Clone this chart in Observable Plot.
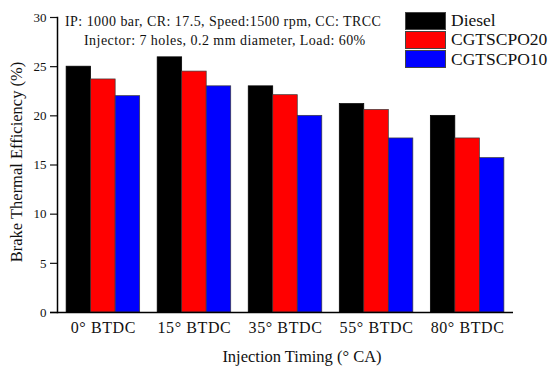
<!DOCTYPE html>
<html>
<head>
<meta charset="utf-8">
<script src="https://cdn.jsdelivr.net/npm/d3@7"></script>
<script src="https://cdn.jsdelivr.net/npm/@observablehq/plot@0.6"></script>
<style>
  body { margin: 0; background: #fff; }
  #wrap { position: relative; width: 548px; height: 366px; overflow: hidden; font-family: "Liberation Serif", "Times New Roman", serif; color: #111; }
  #wrap svg { position: absolute; left: 0; top: 0; }
  .note { position: absolute; white-space: nowrap; font-size: 14px; letter-spacing: 0.45px; }
  .legend { position: absolute; left: 405px; top: 11px; }
  .legend .row { display: flex; align-items: center; height: 19.3px; }
  .legend .sw { width: 39px; height: 16px; border: 1px solid #444; box-sizing: content-box; margin-right: 5px; }
  .legend .lab { font-size: 17.5px; white-space: nowrap; }
</style>
</head>
<body>
<div id="wrap"></div>
<script>
const timings = ["0° BTDC", "15° BTDC", "35° BTDC", "55° BTDC", "80° BTDC"];
const fuels = ["Diesel", "CGTSCPO20", "CGTSCPO10"];
const diesel = [25.0, 25.95, 23.0, 21.2, 20.0];
const cgtscpo20 = [23.7, 24.5, 22.1, 20.6, 17.7];
const cgtscpo10 = [22.0, 23.0, 20.0, 17.7, 15.7];
const colors = ["#000000", "#ff0000", "#0000ff"];
const yTicks = [0, 5, 10, 15, 20, 25, 30];
const noteLines = [
  "IP: 1000 bar, CR: 17.5, Speed:1500 rpm, CC: TRCC",
  "Injector: 7 holes, 0.2 mm diameter, Load: 60%"
];
const xTitle = "Injection Timing (° CA)";
const yTitle = "Brake Thermal Efficiency (%)";

const series = [diesel, cgtscpo20, cgtscpo10];
const rows = [];
fuels.forEach((f, i) => timings.forEach((t, j) => rows.push({fuel: f, timing: t, value: series[i][j]})));

const W = 548, H = 366;
const mL = 57, mR = 35, mT = 17, mB = 54;
const padIn = 0.192, padOut = 0.1;
const step = (W - mL - mR) / (timings.length - padIn + 2 * padOut);
const bw = step * (1 - padIn);
const sub = bw / fuels.length;

const barMarks = fuels.map((f, i) => Plot.barY(rows.filter(d => d.fuel === f), {
  x: "timing", y: "value", fill: colors[i],
  stroke: i === 0 ? "#000" : "#3a3a3a", strokeWidth: 0.7,
  insetLeft: i * sub, insetRight: (fuels.length - 1 - i) * sub
}));

const chart = Plot.plot({
  width: W, height: H,
  marginLeft: mL, marginRight: mR, marginTop: mT, marginBottom: mB,
  style: {fontFamily: "'Liberation Serif', 'Times New Roman', serif", color: "#111", background: "transparent"},
  x: {type: "band", domain: timings, paddingInner: padIn, paddingOuter: padOut, align: 0.5, round: false, label: null},
  y: {domain: [0, 30], label: null},
  marks: [
    ...barMarks,
    Plot.axisY({ticks: yTicks, tickSize: 7, tickPadding: 4, fontSize: 13, strokeWidth: 1.2, label: null}),
    Plot.axisX({tickSize: 0, tickPadding: 9, fontSize: 16, label: null}),
    Plot.ruleY([0], {stroke: "#000", strokeWidth: 1.5, insetLeft: -7}),
    Plot.frame({anchor: "left", stroke: "#000", strokeWidth: 1.5})
  ]
});

const wrap = document.getElementById("wrap");
wrap.appendChild(chart);

chart.querySelectorAll("g[aria-label='x-axis tick label'] text").forEach(t => t.setAttribute("letter-spacing", "0.6"));

const svgNS = "http://www.w3.org/2000/svg";
function addText(str, x, y, size, rotate) {
  const t = document.createElementNS(svgNS, "text");
  t.textContent = str;
  t.setAttribute("x", x); t.setAttribute("y", y);
  t.setAttribute("font-size", size);
  t.setAttribute("text-anchor", "middle");
  t.setAttribute("fill", "#111");
  t.setAttribute("font-family", "'Liberation Serif', 'Times New Roman', serif");
  if (rotate) t.setAttribute("transform", `rotate(-90 ${x} ${y})`);
  chart.appendChild(t);
}
addText(xTitle, 302, 362, 16.5, false);
addText(yTitle, 22, 162, 16.5, true);

const n1 = document.createElement("div");
n1.className = "note"; n1.textContent = noteLines[0];
n1.style.left = "65px"; n1.style.top = "14px";
wrap.appendChild(n1);
const n2 = document.createElement("div");
n2.className = "note"; n2.textContent = noteLines[1];
n2.style.left = "84px"; n2.style.top = "33px";
wrap.appendChild(n2);

const leg = document.createElement("div");
leg.className = "legend";
fuels.forEach((f, i) => {
  const r = document.createElement("div"); r.className = "row";
  const s = document.createElement("div"); s.className = "sw"; s.style.background = colors[i];
  const l = document.createElement("span"); l.className = "lab"; l.textContent = f;
  r.appendChild(s); r.appendChild(l); leg.appendChild(r);
});
wrap.appendChild(leg);
</script>
</body>
</html>
